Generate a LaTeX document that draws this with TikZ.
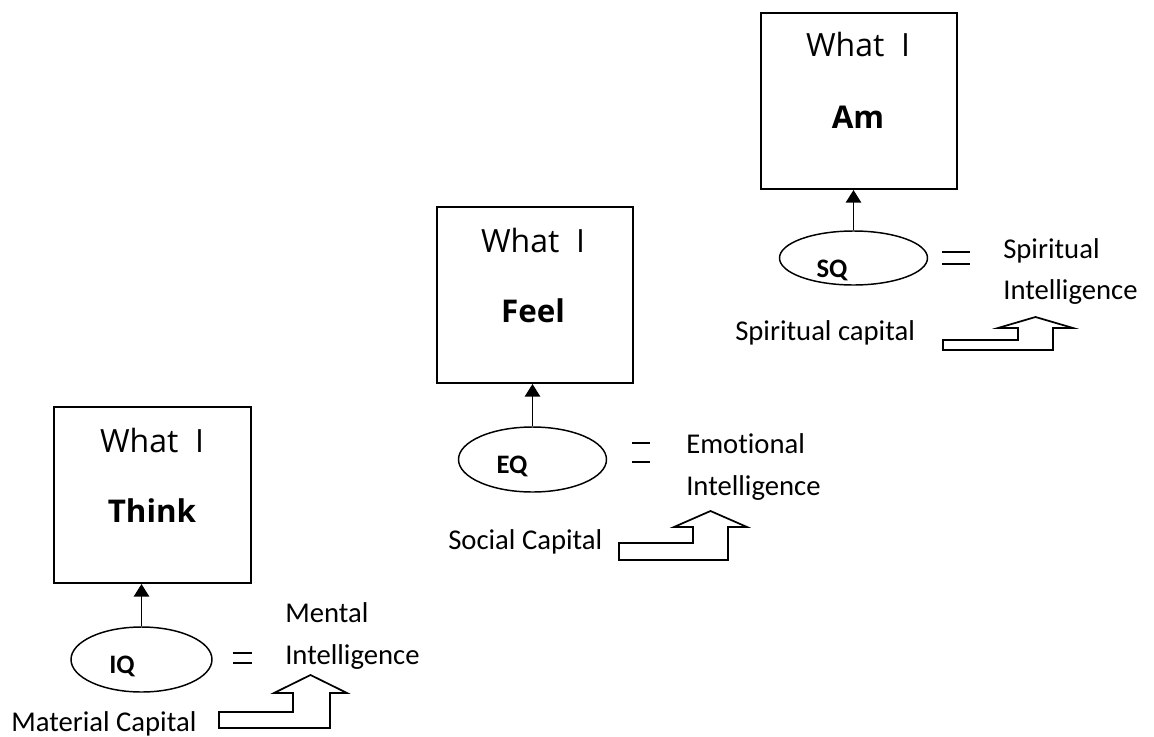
\documentclass[tikz,border=0pt]{standalone}
\usepackage{fontspec}
\setmainfont{Carlito}[Ligatures=NoCommon]
\newfontfamily\boxfont{Open Sans}
\usetikzlibrary{arrows.meta,shapes.geometric}
\begin{document}
\begin{tikzpicture}[x=0.75pt,y=-0.75pt,
  levelbox/.style={draw,line width=1.5pt,minimum width=147pt,minimum height=132pt,inner sep=0pt},
  qoval/.style={draw,ellipse,line width=1.1pt,inner sep=0pt},
  boxtext/.style={anchor=base,inner sep=0pt,font=\boxfont\fontsize{24}{28}\selectfont},
  boxword/.style={anchor=base,inner sep=0pt,font=\boxfont\bfseries\fontsize{23.5}{28}\selectfont},
  qtext/.style={anchor=base,inner sep=0pt,font=\bfseries\fontsize{20}{22}\selectfont},
  label/.style={anchor=base west,inner sep=0pt,font=\fontsize{21.5}{25}\selectfont},
  up/.style={-{Triangle[width=11.5pt,length=9.5pt]},line width=1.4pt},
  eqline/.style={line width=1.1pt},
  blockarrow/.style={draw,line width=1.3pt,fill=white}]
\useasboundingbox (0,0) rectangle (1154,736);

% ---- level 1: IQ
\node[levelbox,minimum width=147.75pt,minimum height=132pt] (b1) at (152.5,495) {};
\node[boxtext] (b1a) at (152,452) {What\ \ I};
\node[boxword] (b1b) at (152,522) {Think};
\node[qoval,minimum width=105.75pt,minimum height=48.75pt] (e1) at (141.5,659.5) {};
\node[qtext] (q1) at (122,673) {IQ};
\draw[up] (e1.north) -- (e1.north |- b1.south);
\draw[eqline] (233,653) -- (252,653) (233,663) -- (252,663);
\node[label] (m1) at (285,622) {Mental};
\node[label] (i1) at (285,664) {Intelligence};
\node[label] (c1) at (11,731) {Material Capital};
\draw[blockarrow] (219,712) -- (293,712) -- (293,693) -- (274,693) -- (310.5,675)
  -- (347,693) -- (330,693) -- (330,728) -- (219,728) -- cycle;

% ---- level 2: EQ
\node[levelbox] (b2) at (535,295) {};
\node[boxtext] (b2a) at (533,252) {What\ \ I};
\node[boxword] (b2b) at (533,322) {Feel};
\node[qoval,minimum width=111pt,minimum height=48.75pt] (e2) at (532.5,459.5) {};
\node[qtext] (q2) at (512,473) {EQ};
\draw[up] (e2.north) -- (e2.north |- b2.south);
\draw[eqline] (632,443) -- (650,443) (632,462) -- (650,462);
\node[label] (m2) at (686,453) {Emotional};
\node[label] (i2) at (686,495) {Intelligence};
\node[label] (c2) at (448,549) {Social Capital};
\draw[blockarrow] (619,543) -- (693,543) -- (693,527) -- (674,527) -- (710.5,511)
  -- (747,527) -- (728,527) -- (728,560) -- (619,560) -- cycle;

% ---- level 3: SQ
\node[levelbox] (b3) at (859,101) {};
\node[boxtext] (b3a) at (858,56) {What\ \ I};
\node[boxword] (b3b) at (858,128) {Am};
\node[qoval,minimum width=111pt,minimum height=40.5pt] (e3) at (853.5,258) {};
\node[qtext] (q3) at (832,277) {SQ};
\draw[up] (e3.north) -- (e3.north |- b3.south);
\draw[eqline] (942,252) -- (970,252) (942,264) -- (970,264);
\node[label] (m3) at (1003,258) {Spiritual};
\node[label] (i3) at (1003,299) {Intelligence};
\node[label] (c3) at (735,340) {Spiritual capital};
\draw[blockarrow] (943,340) -- (1018,340) -- (1018,328) -- (998,328) -- (1035.5,317)
  -- (1073,328) -- (1053,328) -- (1053,350) -- (943,350) -- cycle;
\end{tikzpicture}
\end{document}
